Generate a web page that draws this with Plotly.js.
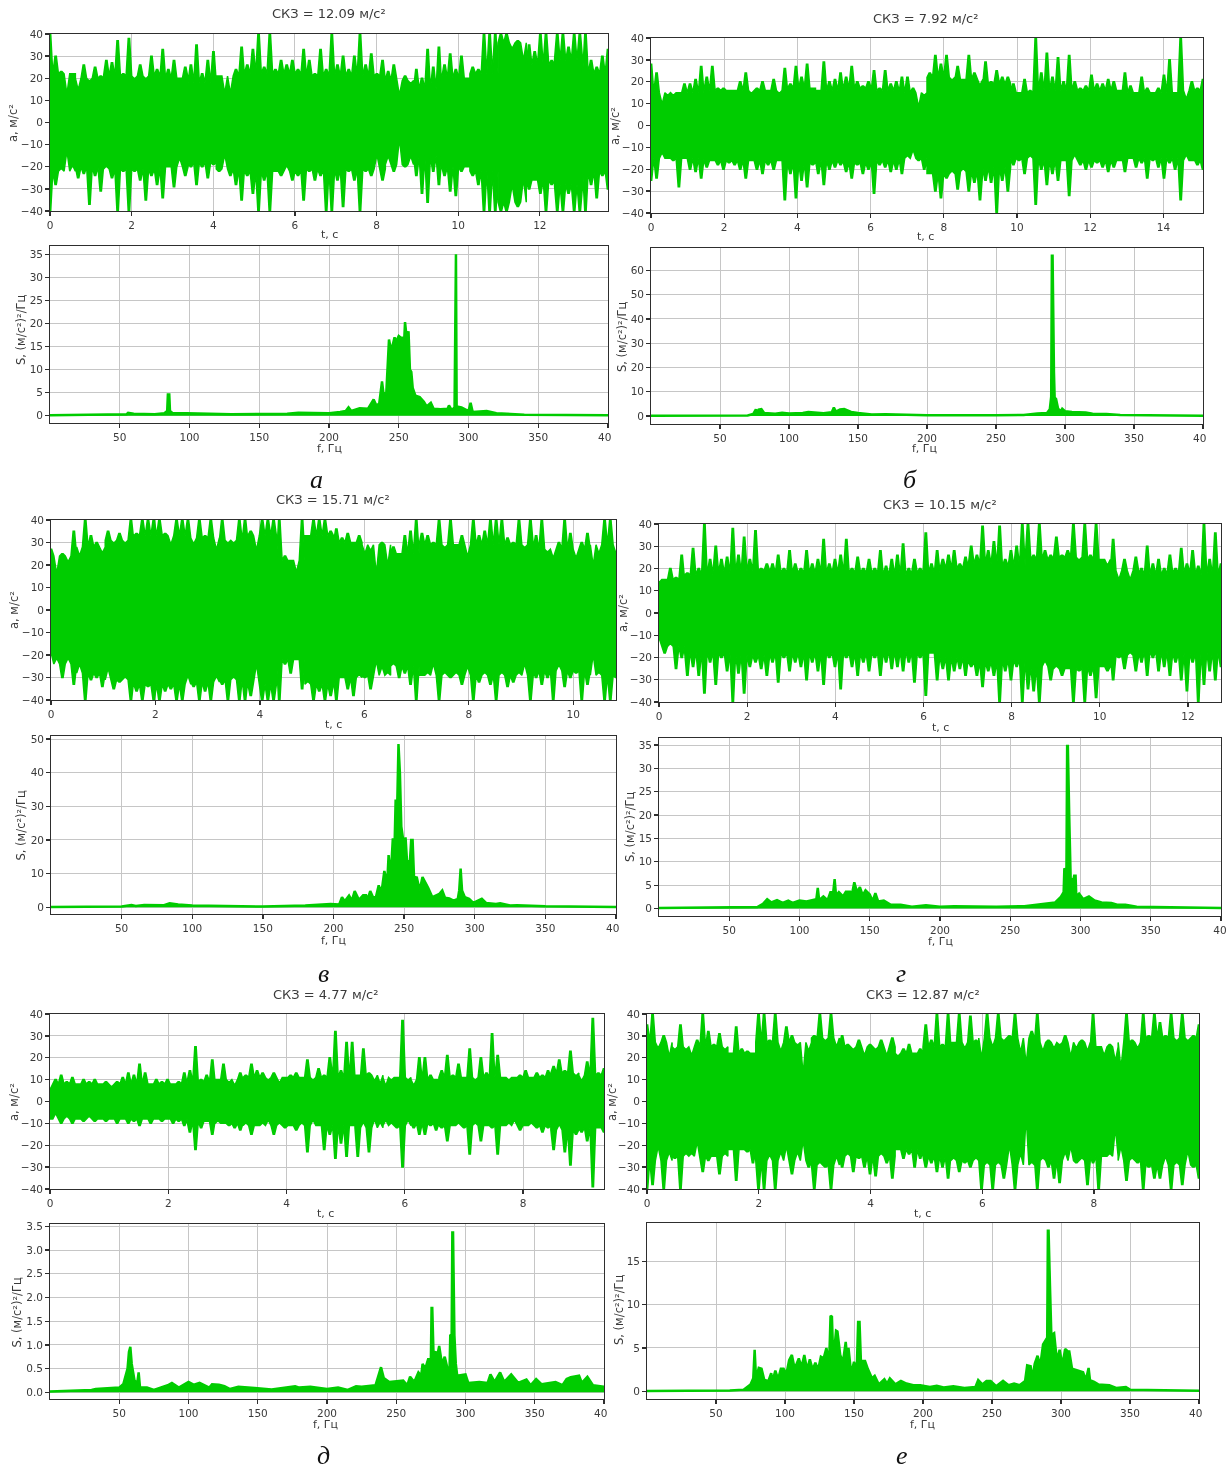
<!DOCTYPE html>
<html><head><meta charset="utf-8">
<script src="https://cdn.plot.ly/plotly-3.0.1.min.js"></script>
<style>html,body{margin:0;padding:0;background:#fff}#g{width:1231px;height:1470px;filter:blur(0.45px)}</style>
</head><body><div id="g"></div>
<script>
// Peak heights of each acceleration record at even steps across the record.
const hiA=[40,30,23,15,22,16,26,19,25,21,28,27,37,22,38,20,26,20,30,24,33,24,28,20,25,26,35,22,28,32,21,15,15,24,34,26,33,40,25,40,24,28,26,28,24,33,28,22,33,24,40,26,30,24,30,40,26,31,22,28,23,26,14,21,18,24,20,33,25,34,26,31,24,30,20,25,24,40,40,40,40,40,34,37,30,35,32,40,40,28,40,40,34,40,40,40,28,25,30,33];
const loA=[-40,-28,-21,-15,-20,-25,-23,-37,-24,-31,-20,-25,-40,-22,-40,-22,-26,-35,-24,-28,-34,-20,-29,-17,-24,-20,-28,-20,-25,-19,-22,-16,-24,-28,-35,-24,-32,-40,-26,-40,-22,-24,-20,-26,-24,-35,-22,-26,-24,-40,-40,-26,-38,-22,-26,-40,-22,-24,-16,-26,-16,-22,-10,-20,-16,-24,-32,-36,-22,-28,-24,-31,-33,-22,-20,-24,-28,-40,-40,-40,-40,-40,-30,-38,-28,-30,-26,-32,-40,-28,-40,-40,-32,-40,-40,-40,-28,-34,-24,-30];
const hiB=[28,24,11,14,14,15,19,19,21,27,22,27,17,17,16,16,20,24,15,17,20,16,21,15,26,19,27,22,28,17,16,29,20,21,24,22,27,20,18,20,25,17,25,19,20,22,22,17,10,14,24,32,28,32,21,27,21,32,24,19,29,20,25,22,22,19,15,21,16,40,24,33,22,31,20,32,20,17,18,23,19,19,21,20,16,24,18,15,22,17,15,17,23,30,15,40,13,20,17,21];
const loB=[-25,-24,-13,-15,-16,-28,-15,-20,-21,-24,-19,-16,-18,-20,-17,-18,-20,-24,-16,-20,-22,-18,-20,-16,-34,-22,-33,-25,-28,-18,-22,-27,-20,-19,-18,-21,-24,-18,-22,-20,-31,-18,-19,-21,-20,-22,-14,-12,-16,-20,-22,-30,-33,-24,-21,-29,-20,-30,-26,-34,-25,-26,-40,-25,-30,-18,-16,-22,-14,-36,-20,-27,-22,-25,-16,-32,-14,-18,-20,-19,-17,-19,-21,-19,-16,-21,-15,-19,-17,-24,-16,-19,-24,-17,-20,-34,-14,-16,-18,-20];
const hiV=[27,18,25,22,35,25,40,33,30,26,35,30,34,30,40,34,40,40,40,40,34,30,40,40,40,30,40,33,40,28,40,30,30,40,40,35,28,40,40,40,40,24,22,18,40,33,40,40,40,35,36,32,34,30,33,26,27,19,30,22,28,25,33,35,40,34,33,30,40,28,40,29,33,25,40,33,35,40,40,40,32,30,40,28,40,33,40,26,24,30,40,34,24,30,34,22,26,40,40,26];
const loV=[-20,-22,-30,-22,-33,-25,-40,-31,-30,-34,-27,-35,-32,-30,-40,-36,-40,-34,-40,-40,-36,-35,-40,-40,-30,-34,-40,-36,-40,-30,-33,-40,-30,-40,-40,-38,-26,-40,-40,-40,-40,-24,-28,-22,-35,-32,-40,-36,-40,-38,-40,-30,-35,-38,-29,-30,-35,-24,-26,-28,-24,-30,-28,-33,-40,-29,-28,-25,-40,-28,-30,-28,-33,-26,-40,-32,-28,-33,-40,-28,-34,-32,-28,-25,-40,-30,-33,-30,-40,-25,-34,-30,-28,-40,-33,-22,-28,-40,-40,-30];
const hiG=[14,15,20,16,26,18,29,20,40,24,30,24,25,38,26,34,24,37,20,22,22,26,20,28,22,20,28,22,24,33,22,24,26,33,20,25,20,24,20,28,21,24,26,31,20,24,20,36,22,28,24,26,28,22,25,30,26,39,28,32,39,24,28,30,40,40,26,40,28,26,34,26,28,40,24,40,26,40,24,22,33,16,24,16,25,20,30,22,24,20,26,20,29,22,28,21,40,24,36,22];
const loG=[-12,-18,-14,-25,-20,-28,-24,-28,-36,-22,-32,-20,-26,-40,-27,-36,-24,-22,-25,-28,-22,-31,-20,-26,-22,-24,-30,-22,-26,-32,-20,-24,-34,-20,-24,-28,-22,-26,-20,-28,-22,-25,-24,-26,-22,-31,-20,-37,-18,-30,-25,-30,-26,-25,-28,-24,-28,-33,-26,-28,-40,-26,-30,-24,-40,-34,-35,-40,-22,-30,-24,-28,-25,-40,-26,-40,-28,-38,-24,-26,-30,-20,-25,-18,-26,-22,-28,-20,-26,-24,-28,-22,-30,-35,-22,-40,-32,-26,-30,-24];
const hiD=[6,10,12,9,11,8,10,9,10,8,9,7,9,11,13,12,17,13,8,10,9,10,8,9,13,14,25,10,12,19,10,17,9,8,13,12,17,14,13,10,13,9,11,12,13,11,19,10,15,12,20,32,14,27,27,12,24,13,10,9,8,10,11,37,10,8,20,20,12,10,14,21,12,17,11,24,10,20,13,31,21,11,10,11,12,14,11,13,12,14,16,19,14,23,12,10,18,38,13,15];
const loD=[-8,-6,-10,-7,-10,-8,-9,-7,-9,-8,-9,-8,-10,-8,-10,-9,-11,-8,-10,-8,-9,-8,-10,-9,-11,-14,-22,-12,-9,-15,-9,-10,-11,-12,-13,-10,-15,-11,-10,-9,-15,-10,-12,-11,-13,-10,-23,-9,-11,-22,-15,-26,-19,-25,-11,-25,-10,-23,-9,-10,-9,-10,-12,-30,-9,-12,-15,-15,-11,-13,-12,-18,-11,-10,-12,-24,-10,-18,-11,-12,-24,-11,-10,-9,-13,-11,-10,-12,-14,-12,-22,-11,-23,-29,-15,-14,-18,-39,-12,-14];
const hiE=[35,40,25,30,22,24,35,24,22,28,40,32,26,31,24,22,34,24,23,22,40,40,28,40,24,34,30,26,16,24,30,40,28,40,26,30,26,24,28,22,26,24,28,22,29,21,24,26,22,24,35,28,40,26,40,27,40,25,39,28,22,40,26,40,28,30,40,24,20,32,40,24,28,25,26,30,22,25,28,24,40,25,22,26,20,18,40,28,25,40,30,40,36,30,40,28,40,28,30,35];
const loE=[-40,-38,-22,-40,-24,-26,-40,-24,-24,-20,-32,-27,-25,-33,-24,-22,-36,-22,-23,-28,-40,-40,-25,-40,-24,-22,-33,-24,-20,-30,-40,-28,-30,-40,-26,-30,-24,-32,-26,-30,-33,-34,-24,-28,-35,-22,-26,-24,-30,-26,-30,-28,-32,-30,-35,-26,-32,-28,-30,-26,-40,-28,-40,-28,-35,-22,-40,-25,-12,-28,-40,-26,-30,-35,-37,-24,-22,-28,-26,-38,-28,-40,-25,-24,-15,-22,-36,-26,-28,-40,-30,-35,-35,-26,-40,-28,-38,-24,-30,-35];
// Amplitude of the solid body of each record, read in twenty even steps.
const bodyA=[22,20,21,21,20,18,21,22,22,21,21,21,19,15,20,22,36,26,28,22];
const bodyB=[15,15,16,16,16,17,16,17,16,15,22,21,19,15,16,16,16,15,15,16];
const bodyV=[24,28,31,33,33,32,31,33,22,33,30,29,25,29,29,29,29,27,27,29];
const bodyG=[15,17,18,19,18,18,18,18,17,18,20,22,21,24,25,24,19,17,18,17];
const bodyD=[8,8,8,8,8,9,10,11,11,11,11,12,11,10,11,11,11,11,13,12];
const bodyE=[27,25,25,22,27,27,29,25,25,22,25,27,29,29,27,27,25,27,29,29];

// Spectra as [frequency, density] pairs.
const specA=[[0,.1],[50,.15],[55,.3],[56,.6],[60,.4],[75,.3],[82,.5],[84,1],[84.5,4.6],[85.5,4.6],[86,1],[88,.5],[98,.5],[130,.3],[170,.4],[178,.6],[200,.5],[208,.8],[212,1],[214,1.8],[216,1],[222,1.6],[228,1.5],[232,3.5],[234,2.2],[236,2.6],[238,7.4],[239,5],[241,4.5],[243,16.5],[244,15],[245,14.5],[247,17],[248,16],[250,17.3],[252,16.8],[254,17],[254.5,20.3],[256,16],[257,18.3],[258,10],[259,9.5],[260,6],[262,4.3],[265,4],[268,3],[270,2],[273,2.8],[275,1.5],[280,1.4],[285,1.5],[286,2.2],[288,1.2],[290,1.8],[290.5,35],[291,35],[291.5,2],[295,1.8],[300,1],[301.5,2.8],[303,.8],[308,.9],[313,1],[320,.5],[328,.4],[340,.2],[400,.1]];
const specB=[[0,.1],[70,.25],[74,.8],[76,2.7],[77,1.5],[78,2.6],[80,2.8],[82,1.2],[90,.9],[95,1.3],[100,1],[110,1.2],[114,1.6],[125,1.1],[131,1.5],[132.5,3.5],[134,1.8],[137,2.7],[140,2.9],[145,1.7],[150,1.2],[160,.6],[170,.7],[200,.35],[250,.3],[270,.4],[280,1],[287,1.2],[289,2.8],[289.5,5],[290,8],[290.5,66],[291,66],[292,18],[292.5,7.5],[293.5,7],[295,3],[297,2],[298,3],[300,2],[305,1.6],[315,1.4],[320,.9],[330,.8],[340,.4],[360,.3],[400,.1]];
const specV=[[0,.1],[50,.2],[57,.7],[60,.4],[66,.7],[80,.6],[84,1.2],[90,.8],[100,.5],[125,.4],[150,.2],[180,.5],[198,1],[204,.8],[206,3],[208,1.8],[211,3.5],[213,2],[215,4.8],[218,2.2],[221,3.6],[223,3.6],[224,2.3],[226,4.8],[228,3],[230,3],[232,6.5],[234,4.5],[236,10.8],[238,7],[239,15.5],[240.5,9],[242,20.5],[243,14],[244,32],[245,28],[245.5,48.5],[246,48.5],[247,40],[248,24],[249,21],[250,17],[251,20.8],[252,14],[254,13],[255,20],[256,20],[257,9],[259,8.8],[261,5],[263,9],[265,7.5],[267,5.8],[270,3],[275,4],[277,5],[279,2.8],[282,2.6],[285,2],[288,2.5],[289,5],[290,11.5],[291,5],[293,3],[296,2.5],[299,1.3],[303,2],[305,2.5],[308,1.3],[315,1],[318,1.2],[325,.5],[330,.6],[350,.3],[400,.1]];
const specG=[[0,.1],[50,.2],[70,.3],[74,1],[77,2],[80,1.3],[84,1.8],[88,1.2],[92,1.7],[95,1.2],[100,1.7],[105,1.5],[110,1.9],[112,2],[113,4.4],[114,1.8],[117,2.6],[120,1.8],[122,3.5],[124,3.5],[125,6.3],[126,2.8],[128,3.5],[131,2.6],[133,3.6],[136,3.6],[137,2.5],[139,5.6],[141,3.5],[143,4.6],[145,2.8],[147,3.9],[150,3],[152,1.6],[154,3.3],[156,1.5],[160,1.7],[165,.8],[172,.8],[180,.4],[190,.7],[200,.4],[210,.5],[240,.4],[260,.5],[275,1.1],[282,1.3],[286,2.5],[288,3.5],[288.5,8.4],[290,8.5],[290.5,34.8],[291,34.8],[292,19.5],[293,6.3],[295,6.2],[295.5,7],[296.5,7],[297,2.6],[299,3.2],[302,2],[306,2.6],[310,1.7],[315,1.3],[322,1.2],[326,.8],[332,.8],[340,.4],[400,.1]];
const specD=[[0,.02],[15,.04],[30,.05],[33,.07],[42,.08],[50,.1],[53,.18],[55,.4],[56,.5],[57,.85],[58,.96],[59,.6],[61,.25],[63,.2],[64,.42],[65,.1],[70,.1],[75,.05],[85,.15],[88,.2],[93,.1],[100,.22],[104,.16],[108,.2],[115,.1],[117,.17],[122,.16],[126,.13],[130,.07],[136,.12],[150,.08],[160,.06],[177,.13],[180,.1],[188,.12],[200,.07],[208,.1],[215,.05],[221,.13],[225,.12],[235,.15],[237,.35],[239,.53],[241,.3],[245,.22],[255,.25],[258,.15],[260,.33],[263,.22],[266,.42],[268,.35],[269,.6],[271,.5],[273,.7],[275,.7],[275.5,1.78],[276,1.78],[277,.7],[278,.85],[280,.83],[281,.98],[283,.6],[285,.75],[287,.5],[288.5,.5],[289,1.2],[290,1.22],[290.5,3.37],[291,3.37],[292,1.2],[293,.6],[294,.35],[300,.38],[302,.2],[310,.22],[316,.2],[318,.38],[321,.22],[325,.42],[328,.22],[333,.38],[338,.2],[344,.27],[347,.15],[351,.28],[355,.17],[365,.22],[370,.15],[373,.28],[376,.32],[382,.35],[384,.2],[388,.33],[392,.15],[400,.12]];
const specE=[[0,.05],[60,.1],[70,.2],[75,.8],[77,1.5],[78,4.8],[79,1.5],[81,2.7],[83,2.6],[85,1.3],[88,1.2],[90,2.1],[91,1.2],[93,2.4],[95,1.4],[97,2.6],[99,2.6],[101,2],[103,3.6],[105,4.2],[107,2.6],[110,3.8],[112,2.8],[114,4.2],[116,2.5],[118,3.7],[120,2.5],[122,3.3],[124,2.5],[126,4],[128,3.8],[130,5],[132,3.3],[133,8.7],[134,8.6],[135,3.5],[137,7],[138,6.9],[140,4.2],[142,3.4],[144,5.7],[145,4],[146,5],[148,2],[150,3.4],[152,2.5],[153,8],[154,8],[155,3.5],[158,3.5],[160,2.6],[163,1.5],[165,1.8],[168,.8],[172,1.4],[174,.9],[176,1.5],[180,.8],[184,1.2],[188,.9],[193,.7],[198,.7],[205,.5],[210,.65],[215,.45],[222,.6],[230,.4],[238,.5],[240,1.3],[243,.8],[246,1.2],[249,1.2],[253,.6],[258,1.2],[262,.7],[266,.9],[270,.7],[274,1.2],[275.5,3],[278,2.9],[279,1.4],[281,3.2],[283,4.1],[285,3],[287,5.4],[289,6],[290,6.2],[290.5,18.5],[291,18.5],[292,12.2],[293,6.5],[295,6.7],[297,3.5],[299,4.8],[301,3],[303,4.9],[305,4.6],[306,4.6],[308,2.6],[312,2.4],[316,2.2],[318,1.3],[320,2.7],[321,1.3],[324,1.1],[327,.8],[335,.7],[340,.4],[347,.5],[350,.2],[400,.08]];

const titles=['СКЗ = 12.09 м/с²','СКЗ = 7.92 м/с²','СКЗ = 15.71 м/с²','СКЗ = 10.15 м/с²','СКЗ = 4.77 м/с²','СКЗ = 12.87 м/с²'];
const letters=['а','б','в','г','д','е'];
const durations=[13.67,15.08,10.82,12.75,9.37,9.88];
const specMax=[36.8,69.2,50.9,36.5,3.55,19.4];
const specMin=[-1.6,-3.3,-2,-1.6,-0.14,-0.88];
const specStep=[5,10,10,5,.5,5];
const freqTicks=[50,100,150,200,250,300,350,400];
const freqLabels=['50','100','150','200','250','300','350','40\u2007'];
const freqLabelsNarrow=['50','100','150','200','250','300','350','40\u2009'];
const hi=[hiA,hiB,hiV,hiG,hiD,hiE], lo=[loA,loB,loV,loG,loD,loE], body=[bodyA,bodyB,bodyV,bodyG,bodyD,bodyE], spec=[specA,specB,specV,specG,specD,specE];

// Layout in page pixels: left,right,topT,botT,topS,botS
const W=1231,H=1470;
const box=[[50,608,34,211,246,423],[651,1203,38,213,248,424],[51,616,520,700,736,914],[659,1221,524,702,738,916],[50,604,1014,1189,1224,1399],[647,1199,1014,1189,1223,1399]];
const cap=[[329,14],[926,18],[333,500],[940,504],[325,994],[923,994]];
const letterPos=[[316,480],[910,479],[323,973],[901,973],[323,1455],[902,1455]];
const yTitleT=[[13,123],[615,126],[14,610],[623,613],[14,1102],[612,1102]];
const yTitleS=[[21,330],[622,337],[20.5,825],[630,827],[16.6,1312],[619,1310]];
const xTitleT=[[329,234],[926,236],[333,724],[940,727],[326,1213],[922,1213]];
const xTitleS=[[329,448],[924,449],[333,940],[940,941],[326,1424],[922,1424]];

const GREEN='#00cc00', GRID='#c6c6c6', AX='#2e2e2e', TXT='#3a3a3a';
const FONT='DejaVu Sans';
const base={showline:true,mirror:true,linecolor:AX,linewidth:1.4,ticks:'outside',ticklen:3.5,tickwidth:1.3,tickcolor:AX,showgrid:true,gridcolor:GRID,gridwidth:1,zeroline:false,tickfont:{family:FONT,size:10.5,color:TXT}};
const data=[],layout={width:W,height:H,margin:{l:0,r:0,t:0,b:0},paper_bgcolor:'#fff',plot_bgcolor:'#fff',showlegend:false,annotations:[],font:{family:FONT}};
function note(text,p,size,extra){layout.annotations.push(Object.assign({text,xref:'paper',yref:'paper',x:p[0]/W,y:1-p[1]/H,xanchor:'center',yanchor:'middle',showarrow:false,font:{family:FONT,size,color:TXT}},extra||{}));}

// One flat-topped needle per reading, rising from the solid body of the record.
function needles(peaks,levels,sign,dur){
  const n=peaks.length,dt=dur/(n-1),xs=[],ys=[];
  peaks.forEach((v,i)=>{
    const t=dur*i/(n-1),floor=sign*levels[Math.min(levels.length-1,Math.floor(i*levels.length/n))];
    xs.push(t-dt*.5,t-dt*.12,t+dt*.12,t+dt*.5);
    ys.push(floor,v,v,floor);
  });
  return {xs,ys};
}
for(let k=0;k<6;k++){
  const b=box[k],dur=durations[k];
  const up=needles(hi[k],body[k],1,dur),dn=needles(lo[k],body[k],-1,dur);
  const tTop=2*k+1,tBot=2*k+2;
  data.push({type:'scatter',mode:'lines',x:up.xs.concat(dn.xs.slice().reverse()),y:up.ys.concat(dn.ys.slice().reverse()),fill:'toself',fillcolor:GREEN,line:{color:GREEN,width:1.5},hoverinfo:'skip',xaxis:'x'+tTop,yaxis:'y'+tTop});
  layout['xaxis'+tTop]=Object.assign({},base,{domain:[b[0]/W,b[1]/W],range:[0,dur],dtick:2,tick0:0,anchor:'y'+tTop});
  layout['yaxis'+tTop]=Object.assign({},base,{domain:[1-b[3]/H,1-b[2]/H],range:[-40,40],dtick:10,tick0:-40,anchor:'x'+tTop});
  data.push({type:'scatter',mode:'lines',x:spec[k].map(p=>p[0]),y:spec[k].map(p=>p[1]),fill:'tozeroy',fillcolor:GREEN,line:{color:GREEN,width:2.5},hoverinfo:'skip',xaxis:'x'+tBot,yaxis:'y'+tBot});
  layout['xaxis'+tBot]=Object.assign({},base,{domain:[b[0]/W,b[1]/W],range:[0,400],tickmode:'array',tickvals:freqTicks,ticktext:k===3?freqLabelsNarrow:freqLabels,anchor:'y'+tBot});
  layout['yaxis'+tBot]=Object.assign({},base,{domain:[1-b[5]/H,1-b[4]/H],range:[specMin[k],specMax[k]],dtick:specStep[k],tick0:0,tickformat:k===4?'.1f':'d',anchor:'x'+tBot});
  note(titles[k],cap[k],13);
  note('t, с',xTitleT[k],11);
  note('f, Гц',xTitleS[k],11);
  note('a, м/с²',yTitleT[k],11.5,{textangle:-90});
  note('S, (м/с²)²/Гц',yTitleS[k],11.5,{textangle:-90});
  note('<i>'+letters[k]+'</i>',letterPos[k],26,{font:{family:'Liberation Serif',size:26,color:'#111'}});
}
Plotly.newPlot('g',data,layout,{displayModeBar:false,staticPlot:true});
</script></body></html>
